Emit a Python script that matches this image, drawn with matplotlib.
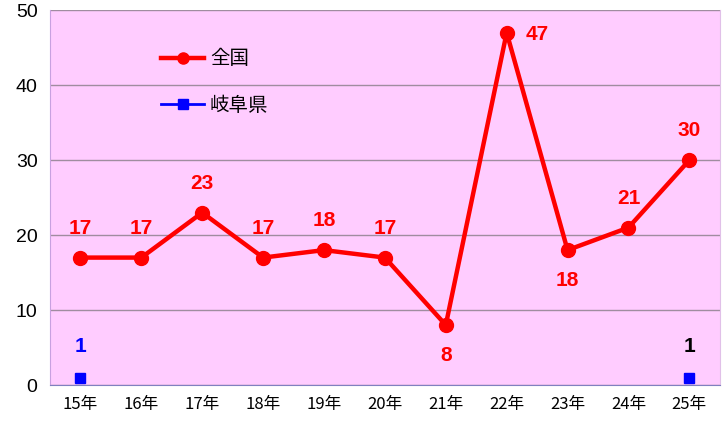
import matplotlib
matplotlib.use("Agg")
import matplotlib.pyplot as plt
import numpy as np

plt.rcParams['font.family'] = ['Noto Sans CJK JP', 'DejaVu Sans']

categories = ["15年", "16年", "17年", "18年", "19年", "20年", "21年", "22年", "23年", "24年", "25年"]
zenkoku = [17, 17, 23, 17, 18, 17, 8, 47, 18, 21, 30]
gifu = [1, None, None, None, None, None, None, None, None, None, 1]

fig = plt.figure(figsize=(7.28, 4.23), dpi=100)
ax = fig.add_axes([0.0687, 0.0898, 0.920, 0.886])
ax.set_facecolor("#FFCCFF")

x = np.arange(len(categories))
ax.plot(x, zenkoku, color="#FF0000", lw=3.2, marker="o", ms=10, zorder=3, label="全国")
gx = [i for i, v in enumerate(gifu) if v is not None]
gy = [v for v in gifu if v is not None]
ax.plot(gx, gy, color="#0000FF", lw=0, marker="s", ms=7, zorder=3, label="岐阜県")

ax.set_xlim(-0.5, len(categories) - 0.5)
ax.set_ylim(0, 50)
ax.set_yticks(range(0, 51, 10))
ax.set_xticks(x)
ax.set_xticklabels(categories, fontsize=12)
for t in ax.get_yticklabels():
    t.set_family(["Liberation Sans"])
ax.tick_params(axis="y", labelsize=14, length=0, pad=9)
ax.tick_params(axis="x", length=0, pad=8)
ax.grid(axis="y", color="#A08CA0", lw=1)
ax.set_axisbelow(True)
ax.spines["top"].set_visible(False)
ax.spines["right"].set_color("#E0C0E8")
ax.spines["left"].set_color("#C8A0E0")
ax.spines["bottom"].set_color("#8080C0")

# data labels
offsets = {6: (0, -22), 7: (22, -1), 8: (0, -22)}
for i, v in enumerate(zenkoku):
    dx, dy = offsets.get(i, (0, 21))
    ax.annotate(str(v), (i, v), xytext=(dx, dy), textcoords="offset points",
                ha="center", va="center", color="#FF0000", fontsize=15, fontweight="bold",
                family=["Liberation Sans"])
gifu_colors = {0: "#0000FF", 10: "#000000"}
for i, v in zip(gx, gy):
    ax.annotate(str(v), (i, v), xytext=(0, 22), textcoords="offset points",
                ha="center", va="center", color=gifu_colors[i], fontsize=15, fontweight="bold",
                family=["Liberation Sans"])

# legend
h1, = ax.plot([], [], color="#FF0000", lw=3.2, marker="o", ms=8)
h2, = ax.plot([], [], color="#0000FF", lw=2, marker="s", ms=7)
ax.legend([h1, h2], ["全国", "岐阜県"], loc="upper left", bbox_to_anchor=(0.14, 0.945),
          frameon=False, fontsize=14, labelspacing=1.3, handlelength=2.2, handletextpad=0.3)

fig.savefig("out.png", dpi=100)
